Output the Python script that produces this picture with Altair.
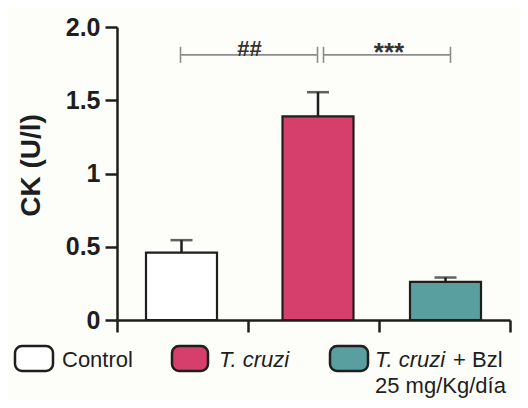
import altair as alt
import pandas as pd

# ---- data ----
groups = ["Control", "T. cruzi", "T. cruzi + Bzl"]
means = [0.46, 1.39, 0.26]
errors = [0.085, 0.165, 0.03]
bar_colors = ["#FFFFFF", "#D63F6C", "#5A9FA0"]
y_ticks = [0, 0.5, 1, 1.5, 2]
y_tick_labels = ["0", "0.5", "1", "1.5", "2.0"]
brackets_from = ["Control", "T. cruzi"]
brackets_to = ["T. cruzi", "T. cruzi + Bzl"]
brackets_label = ["##", "***"]
bracket_y = 1.81
bracket_half = 0.055

FONT = "Liberation Sans"
INK = "#1e1e1e"

df = pd.DataFrame({"group": groups, "mean": means, "err": errors})
df["upper"] = df["mean"] + df["err"]

x_scale = alt.Scale(domain=groups, paddingInner=0, paddingOuter=0)
color_scale = alt.Scale(domain=groups, range=bar_colors)

label_expr = " : ".join(
    f"datum.value == {v} ? '{l}'" for v, l in zip(y_ticks, y_tick_labels)
) + " : ''"

x_axis = alt.Axis(
    title=None, labels=False, tickBand="extent", tickSize=12,
    tickWidth=2.5, tickColor=INK, domainColor=INK, domainWidth=2.5,
)
y_axis = alt.Axis(
    values=y_ticks, labelExpr=label_expr, grid=False,
    title="CK (U/l)", titleFont=FONT, titleFontSize=28, titleFontWeight="bold",
    titleColor=INK, titleX=-78, titleY=138, titleAlign="center",
    titleBaseline="alphabetic", titleAngle=-90,
    labelFont=FONT, labelFontSize=25, labelFontWeight="bold", labelColor=INK,
    labelPadding=5, tickSize=12, tickWidth=2.5, tickColor=INK,
    domainColor=INK, domainWidth=2.5,
)
y_scale = alt.Scale(domain=[0, 2], nice=False)

# axes layer (invisible helper)
axes = alt.Chart(df).mark_point(opacity=0).encode(
    x=alt.X("group:N", scale=x_scale, sort=groups, axis=x_axis),
    y=alt.Y("mean:Q", scale=y_scale, axis=y_axis),
)
layers = [axes]

# bars, error lines and caps, one layer per group (small horizontal nudges)
bar_dx = [-1, 4.5, 1]
for i, g in enumerate(groups):
    gc = alt.Chart(df).transform_filter(alt.datum.group == g)
    xe = alt.X("group:N", scale=x_scale, sort=groups)
    layers.append(gc.mark_bar(size=71, stroke=INK, strokeWidth=2.2, xOffset=bar_dx[i]).encode(
        x=xe, y=alt.Y("mean:Q", scale=y_scale),
        color=alt.Color("group:N", scale=color_scale, legend=None)))
    layers.append(gc.mark_rule(color=INK, strokeWidth=2.5, xOffset=bar_dx[i]).encode(
        x=xe, y="mean:Q", y2="upper:Q"))
    layers.append(gc.mark_tick(color=INK, size=22, thickness=2.5, xOffset=bar_dx[i]).encode(
        x=xe, y="upper:Q"))

# significance brackets
bracket_offsets = [(-2, 4), (10, 6)]
text_dx = [1.5, 10]
text_sizes = [22, 26]
text_dy = [1, 6]
for i in range(len(brackets_from)):
    bdf = pd.DataFrame({
        "a": [brackets_from[i]], "b": [brackets_to[i]], "y": [bracket_y],
        "lo": [bracket_y - bracket_half], "hi": [bracket_y + bracket_half],
        "label": [brackets_label[i]],
    })
    ox1, ox2 = bracket_offsets[i]
    bc = alt.Chart(bdf)
    layers.append(bc.mark_rule(color="#8c8c8c", strokeWidth=1.6, xOffset=ox1, x2Offset=ox2).encode(
        x=alt.X("a:N", scale=x_scale, sort=groups), x2="b:N", y="y:Q"))
    layers.append(bc.mark_rule(color="#8c8c8c", strokeWidth=1.6, xOffset=ox1).encode(
        x=alt.X("a:N", scale=x_scale, sort=groups), y="lo:Q", y2="hi:Q"))
    layers.append(bc.mark_rule(color="#8c8c8c", strokeWidth=1.6, xOffset=ox2).encode(
        x=alt.X("b:N", scale=x_scale, sort=groups), y="lo:Q", y2="hi:Q"))
    layers.append(bc.mark_text(font=FONT, fontSize=text_sizes[i], fontWeight="bold", color="#333333",
                               baseline="alphabetic", dx=text_dx[i], dy=text_dy[i]).encode(
        x=alt.X("a:N", scale=x_scale, sort=groups, bandPosition=1), y="y:Q", text="label:N"))

# manual legend (positions relative to plot origin)
legend_rects = [(-102, -64), (55, 91), (213, 251)]
rect_y = (319, 344)
text_base = 340
for i, g in enumerate(groups):
    ldf = pd.DataFrame({"group": [g]})
    lc = alt.Chart(ldf)
    x1, x2 = legend_rects[i]
    layers.append(lc.mark_rect(cornerRadius=7, stroke=INK, strokeWidth=2.5).encode(
        x=alt.value(x1), x2=alt.value(x2), y=alt.value(rect_y[0]), y2=alt.value(rect_y[1]),
        color=alt.Color("group:N", scale=color_scale, legend=None)))

legend_texts = [
    ("Control", -55, text_base, "normal"),
    ("T. cruzi", 102, text_base, "italic"),
    ("T. cruzi", 258, text_base, "italic"),
    ("+ Bzl", 336, text_base, "normal"),
    ("25 mg/Kg/día", 258, 366, "normal"),
]
for txt, tx, ty, style in legend_texts:
    tdf = pd.DataFrame({"t": [txt]})
    layers.append(alt.Chart(tdf).mark_text(
        font=FONT, fontSize=22, fontStyle=style, color=INK, align="left", baseline="alphabetic"
    ).encode(x=alt.value(tx), y=alt.value(ty), text="t:N"))

chart = alt.layer(*layers).properties(
    width=393, height=293,
    autosize=alt.AutoSizeParams(type="none"),
    padding={"left": 109, "top": 19, "right": 10, "bottom": 80},
    background="#FDFDFA",
).configure_view(stroke=None)

chart.save("out.html", embed_options={"renderer": "svg", "actions": False})
